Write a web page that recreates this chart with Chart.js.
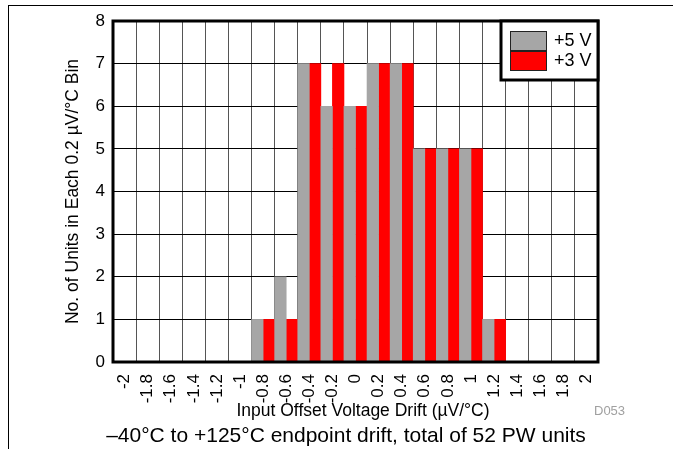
<!DOCTYPE html>
<html>
<head>
<meta charset="utf-8">
<script src="https://cdn.jsdelivr.net/npm/chart.js@4/dist/chart.umd.min.js"></script>
<style>
  html, body { margin: 0; padding: 0; background: #fff; }
  #wrap { position: relative; width: 673px; height: 449px; }
  #frame {
    position: absolute; left: 8px; top: 5px; right: 0; bottom: 0;
    border-top: 1.5px solid #000; border-left: 1.5px solid #000;
    pointer-events: none;
  }
  canvas { position: absolute; left: 0; top: 0; }
</style>
</head>
<body>
<div id="wrap">
  <div id="frame"></div>
  <canvas id="chart" width="673" height="449"></canvas>
</div>
<script>
// bins of input offset voltage drift (uV/C)
const bins = ['-2', '-1.8', '-1.6', '-1.4', '-1.2', '-1', '-0.8', '-0.6', '-0.4', '-0.2',
              '0', '0.2', '0.4', '0.6', '0.8', '1', '1.2', '1.4', '1.6', '1.8', '2'];
const units5V = [0, 0, 0, 0, 0, 0, 1, 2, 7, 6, 6, 7, 7, 5, 5, 5, 1, 0, 0, 0, 0];
const units3V = [0, 0, 0, 0, 0, 0, 1, 1, 7, 7, 6, 7, 7, 5, 5, 5, 1, 0, 0, 0, 0];
const seriesNames = ['+5 V', '+3 V'];
const seriesColors = ['#a6a6a6', '#ff0000'];
const yTicks = [0, 1, 2, 3, 4, 5, 6, 7, 8];

const xTitle = 'Input Offset Voltage Drift (\u00b5V/\u00b0C)';
const yTitle = 'No. of Units in Each 0.2 \u00b5V/\u00b0C Bin';
const caption = '\u201340\u00b0C to +125\u00b0C endpoint drift, total of 52 PW units';
const figId = 'D053';

const FONT = 'Arial, "Liberation Sans", sans-serif';

// frame, legend box and extra texts
const decor = {
  id: 'decor',
  afterDatasetsDraw(chart) {
    const ctx = chart.ctx;
    const a = chart.chartArea;
    ctx.save();
    // plot border
    ctx.strokeStyle = '#000';
    ctx.lineWidth = 3;
    ctx.strokeRect(a.left, a.top, a.right - a.left, a.bottom - a.top);

    // legend in the top right corner
    const bx = a.right - 97, by = a.top, bw = 97, bh = 59;
    ctx.fillStyle = '#fff';
    ctx.fillRect(bx, by, bw, bh);
    ctx.strokeRect(bx, by, bw, bh);
    ctx.lineWidth = 1;
    ctx.font = '18px ' + FONT;
    ctx.textBaseline = 'middle';
    chart.data.datasets.forEach((ds, i) => {
      const sy = by + 10 + i * 20;
      ctx.fillStyle = ds.backgroundColor;
      ctx.fillRect(bx + 9, sy, 37, 20);
      ctx.strokeStyle = '#222';
      ctx.strokeRect(bx + 9.5, sy + 0.5, 36, 19);
      ctx.fillStyle = '#000';
      ctx.fillText(ds.label, bx + 53, sy + 10.5);
    });
    ctx.restore();
  },
  afterDraw(chart) {
    const ctx = chart.ctx;
    ctx.save();
    ctx.textBaseline = 'middle';
    ctx.textAlign = 'center';
    ctx.fillStyle = '#000';
    ctx.font = '17.5px ' + FONT;
    ctx.fillText(xTitle, 363, 411);
    ctx.font = '21px ' + FONT;
    ctx.fillText(caption, 346, 436);
    ctx.font = '13px ' + FONT;
    ctx.fillStyle = '#a0a0a0';
    ctx.textAlign = 'left';
    ctx.fillText(figId, 594, 411);
    ctx.restore();
  }
};

new Chart(document.getElementById('chart'), {
  type: 'bar',
  data: {
    labels: bins,
    datasets: [
      { label: seriesNames[0], data: units5V, backgroundColor: seriesColors[0] },
      { label: seriesNames[1], data: units3V, backgroundColor: seriesColors[1] }
    ]
  },
  options: {
    responsive: false,
    animation: false,
    events: [],
    layout: { padding: { left: 0, top: 21, right: 75, bottom: 25 } },
    datasets: { bar: { categoryPercentage: 1.0, barPercentage: 1.0, borderWidth: 0 } },
    plugins: { legend: { display: false }, tooltip: { enabled: false } },
    scales: {
      x: {
        afterFit(s) { s.height = 62; },
        grid: { color: '#555', lineWidth: 1, drawTicks: false, offset: true },
        border: { display: false },
        ticks: {
          color: '#000', font: { size: 17, family: FONT },
          minRotation: 90, maxRotation: 90, padding: 12, autoSkip: false
        }
      },
      y: {
        min: 0, max: 8,
        afterFit(s) { s.width = 113; },
        afterBuildTicks(s) { s.ticks = yTicks.map(v => ({ value: v })); },
        grid: { color: '#000', lineWidth: 1, drawTicks: false },
        border: { display: false },
        ticks: { color: '#000', font: { size: 17, family: FONT }, padding: 8 },
        title: {
          display: true, text: yTitle, color: '#000',
          font: { size: 17.5, family: FONT }, padding: { top: 63, bottom: 0 }
        }
      }
    }
  },
  plugins: [decor]
});
</script>
</body>
</html>
